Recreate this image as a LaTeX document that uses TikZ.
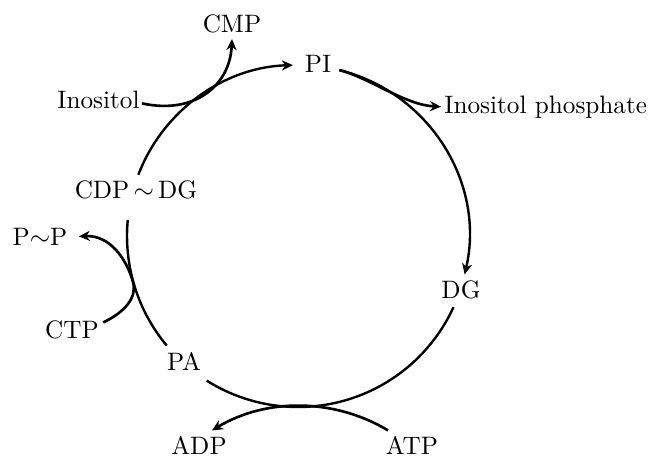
\documentclass[tikz,border=0pt]{standalone}
\usetikzlibrary{arrows.meta,calc}
\begin{document}
\begin{tikzpicture}[x=0.4167pt,y=0.4167pt,
  lbl/.style={inner sep=0pt,font=\fontsize{10.5}{12}\selectfont},
  cyc/.style={line width=1pt},
  side/.style={line width=1.1pt},
  tip/.style={-{Stealth[length=4.6pt,width=4.2pt]}}]
\useasboundingbox (0,0) rectangle (652,458);
\coordinate (o) at (298,222);
\coordinate (o2) at (300,-119);
% labels
\node[lbl,anchor=base] (cmp) at (232,426) {CMP};
\node[lbl,anchor=base] (pi) at (318,386) {PI};
\node[lbl,anchor=base west] (ip) at (444,345) {Inositol phosphate};
\node[lbl,anchor=base east] (ino) at (140,350) {Inositol};
\node[lbl,anchor=base] (cdp) at (136,260) {CDP\,${\sim}$\,DG};
\node[lbl,anchor=base] (pp) at (40,213) {P${\sim}$P};
\node[lbl,anchor=base] (ctp) at (72,120) {CTP};
\node[lbl,anchor=base] (pa) at (184,88) {PA};
\node[lbl,anchor=base] (dg) at (461,160) {DG};
\node[lbl,anchor=base] (adp) at (199,4) {ADP};
\node[lbl,anchor=base] (atp) at (412,4) {ATP};
% main cycle
\draw[cyc,tip] ([shift={(159:171)}]o) arc[start angle=159,end angle=91.7,radius=171];
\draw[cyc,tip] ([shift={(76:171)}]o) arc[start angle=76,end angle=-13,radius=171];
\draw[cyc] ([shift={(-24.6:171)}]o) arc[start angle=-24.6,end angle=-122.3,radius=171];
\draw[cyc] ([shift={(219.8:171)}]o) arc[start angle=219.8,end angle=174.6,radius=171];
% side reactions
\draw[side,tip] ([shift={(2,-4)}]ino.east) .. controls (195,343) and (230,373) .. ([shift={(0,-6)}]cmp.south);
\draw[side,tip] ([shift={(76:171)}]o) .. controls (370,380) and (405,353) .. ([shift={(-3,0)}]ip.west);
\draw[side,tip] ([shift={(4,7)}]ctp.east) .. controls (125,146) and (137.3,160.6) .. (133,176)
   .. controls (126.5,199.2) and (110,223) .. ([shift={(11,0)}]pp.east);
\draw[side,tip] ([shift={(59:171)}]o2) arc[start angle=59,end angle=121,radius=171];
\end{tikzpicture}
\end{document}
